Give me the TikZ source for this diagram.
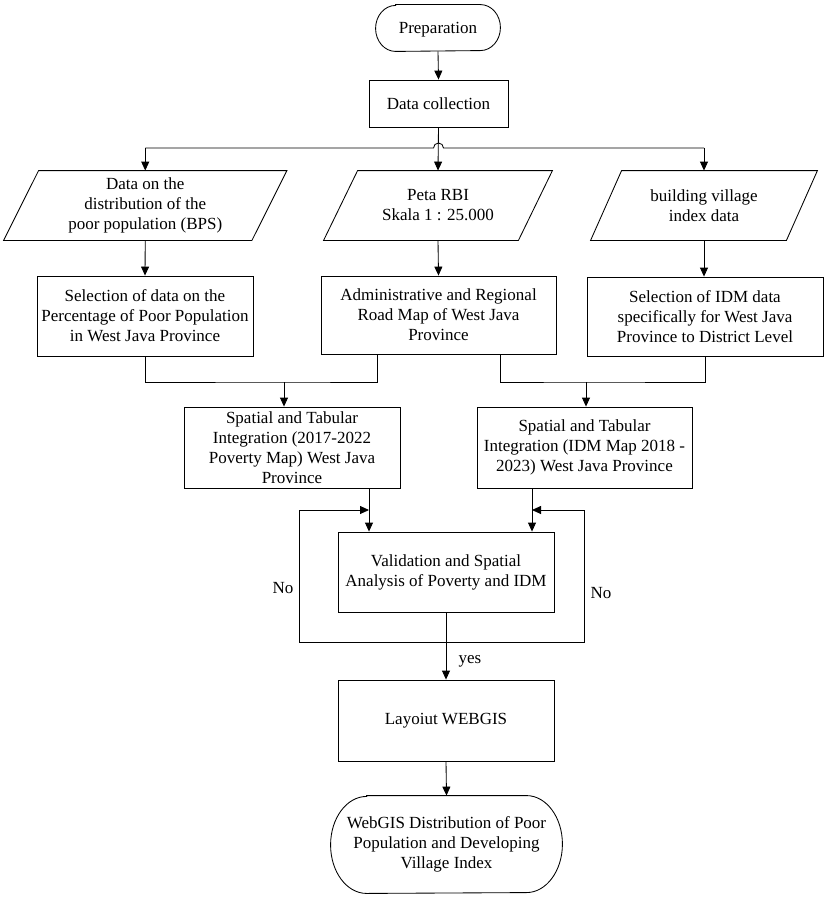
\documentclass[tikz,border=0pt]{standalone}
\usepackage{fontspec}
\setmainfont{Liberation Serif}
\usetikzlibrary{arrows.meta,calc}
\begin{document}
\begin{tikzpicture}[x=1pt,y=1pt, line width=0.85pt,
  every node/.style={font=\fontsize{17}{20}\selectfont, inner sep=0pt, align=center},
  procbox/.style={draw, rectangle},
  plain/.style={rectangle},
  lbl/.style={font=\fontsize{17}{20}\selectfont},
  arr/.style={-{Triangle[length=9pt,width=8pt]}}]
\useasboundingbox (0,0) rectangle (833,-907);

% nodes
\node[plain, minimum width=124pt, minimum height=46pt, text depth=0pt] (prep) at (438,-28) {Preparation};
\node[procbox, minimum width=139pt, minimum height=47pt] (collect) at (438.5,-103.5) {Data collection};

\node[plain, minimum width=247.5pt, minimum height=69pt] (p1) at (145.25,-205.5) {Data on the\\distribution of the\\poor population (BPS)};
\node[plain, minimum width=194pt, minimum height=69pt] (p2) at (438,-205.5) {Peta RBI\\Skala 1 : 25.000};
\node[plain, minimum width=195pt, minimum height=69pt] (p3) at (704,-205.5) {building village\\index data};

\node[procbox, minimum width=216pt, minimum height=80pt] (sel1) at (145,-316) {Selection of data on the\\Percentage of Poor Population\\in West Java Province};
\node[procbox, minimum width=235pt, minimum height=78pt] (adm) at (438.5,-315) {Administrative and Regional\\Road Map of West Java\\Province};
\node[procbox, minimum width=236pt, minimum height=79pt] (sel3) at (705,-316.5) {Selection of IDM data\\specifically for West Java\\Province to District Level};

\node[procbox, minimum width=216pt, minimum height=81pt] (int1) at (292,-447.5) {Spatial and Tabular\\Integration (2017-2022\\Poverty Map) West Java\\Province};
\node[procbox, minimum width=215pt, minimum height=81pt] (int2) at (584.5,-447.5) {Spatial and Tabular\\Integration (IDM Map 2018 -\\2023) West Java Province};

\node[procbox, minimum width=216pt, minimum height=80pt] (valid) at (446,-572) {Validation and Spatial\\Analysis of Poverty and IDM};
\node[procbox, minimum width=216pt, minimum height=81pt] (layout) at (446,-720.5) {Layoiut WEBGIS};
\node[plain, minimum width=231pt, minimum height=97pt] (final) at (446.5,-844.5) {WebGIS Distribution of Poor\\Population and Developing\\Village Index};

\node[lbl] (no1) at (283,-588) {No};
\node[lbl] (no2) at (601,-593) {No};
\node[lbl] (yes) at (470,-661) {yes};

% terminal outlines
\draw ([xshift=20pt]prep.north west) -- ([xshift=-20pt]prep.north east)
  arc[start angle=90, end angle=-90, x radius=20pt, y radius=23pt]
  -- ([xshift=20pt]prep.south west)
  arc[start angle=270, end angle=90, x radius=20pt, y radius=23pt] -- cycle;
\draw ([xshift=36pt]final.north west) -- ([xshift=-36pt]final.north east)
  arc[start angle=90, end angle=-90, x radius=36pt, y radius=48.5pt]
  -- ([xshift=36pt]final.south west)
  arc[start angle=270, end angle=90, x radius=36pt, y radius=48.5pt] -- cycle;

% parallelograms
\foreach \p/\s in {p1/17.5, p2/17, p3/15.5}{
  \draw ([xshift=-\s pt]\p.south west) -- ([xshift=-\s pt]\p.south east)
    -- ([xshift=\s pt]\p.north east) -- ([xshift=\s pt]\p.north west) -- cycle;
}

% connectors
\draw[arr] (prep.south) -- (collect.north);
\coordinate (hy) at (0,-148);
\coordinate (h1) at (p1.north |- hy);
\coordinate (h3) at (p3.north |- hy);
\coordinate (hopa) at ($(collect.south |- hy)+(-5,0)$);
\draw (h1) -- (hopa) arc[start angle=180, end angle=0, radius=5pt] -- (h3);
\draw[arr] (collect.south) -- (p2.north);
\draw[arr] (h1) -- (p1.north);
\draw[arr] (h3) -- (p3.north);

\draw[arr] (p1.south) -- (sel1.north);
\draw[arr] (p2.south) -- (adm.north);
\draw[arr] (p3.south) -- (sel3.north -| p3.south);

\coordinate (a1) at ([xshift=-61.5pt]adm.south);
\coordinate (a2) at ([xshift=61.5pt]adm.south);
\coordinate (j1) at (284,-382);
\coordinate (j2) at (586,-382);
\draw (sel1.south) |- (j1) -| (a1);
\draw[arr] (j1) -- (j1 |- int1.north);
\draw (a2) |- (j2) -| (sel3.south);
\draw[arr] (j2) -- (j2 |- int2.north);

\coordinate (b1) at ([xshift=77pt]int1.south);
\coordinate (b2) at ([xshift=-52.5pt]int2.south);
\draw[arr] (b1) -- (b1 |- valid.north);
\draw[arr] (b2) -- (b2 |- valid.north);

\coordinate (m) at (valid.south |- 0,-642);
\coordinate (lc) at (299,-510);
\coordinate (rc) at (584,-510);
\draw[arr] (m) -| (lc) -- (b1 |- lc);
\draw[arr] (m) -| (rc) -- (b2 |- rc);

\draw[arr] (valid.south) -- (layout.north);
\draw[arr] (layout.south) -- (final.north);
\end{tikzpicture}
\end{document}
